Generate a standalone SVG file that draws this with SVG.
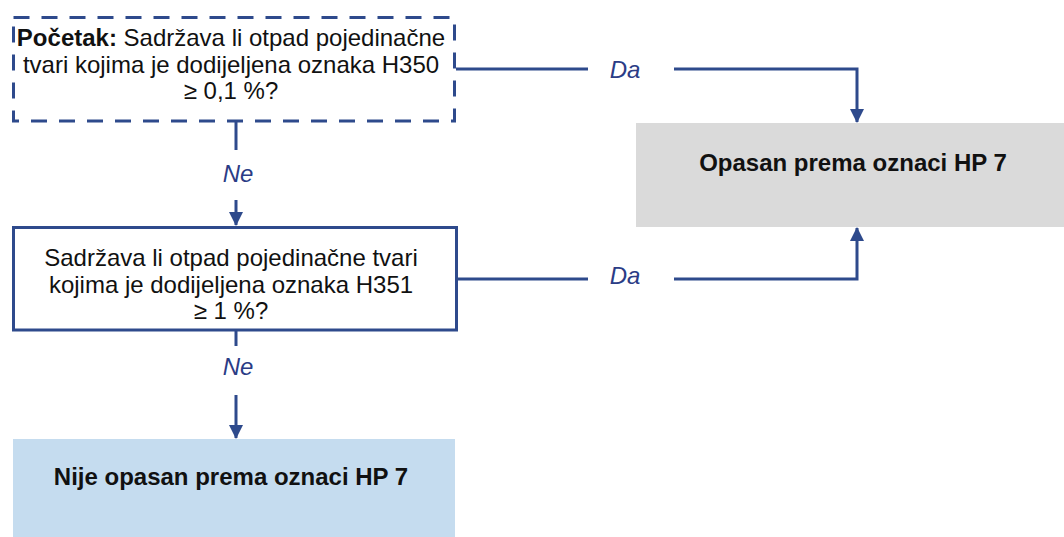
<svg xmlns="http://www.w3.org/2000/svg" width="1064" height="537" viewBox="0 0 1064 537">
<style>
.txt{font-family:"Liberation Sans",Arial,sans-serif;font-size:24px;fill:#111;text-anchor:middle}
.b{font-weight:bold}
.lbl{font-family:"Liberation Sans",Arial,sans-serif;font-size:24px;font-style:italic;fill:#2b3c86;text-anchor:middle}
.conn{fill:none;stroke:#2e4a8c;stroke-width:3}
</style>
<defs>
<marker id="arr" markerUnits="userSpaceOnUse" markerWidth="14" markerHeight="14" refX="13" refY="7" orient="auto">
<path d="M0,0 L14,7 L0,14 z" fill="#2e4a8c"/>
</marker>
</defs>
<rect width="1064" height="537" fill="#fff"/>
<g id="start">
<rect x="13.5" y="17.5" width="441" height="103.5" fill="#fff" stroke="#2e4a8c" stroke-width="3" stroke-dasharray="16 12"/>
<text class="txt" x="231" y="46"><tspan class="b">Početak:</tspan> Sadržava li otpad pojedinačne</text>
<text class="txt" x="231" y="72.5">tvari kojima je dodijeljena oznaka H350</text>
<text class="txt" x="231" y="99">≥ 0,1 %?</text>
</g>
<g id="q2">
<rect x="13.5" y="227.5" width="443" height="102.5" fill="#fff" stroke="#2e4a8c" stroke-width="3"/>
<text class="txt" x="231" y="266">Sadržava li otpad pojedinačne tvari</text>
<text class="txt" x="231" y="292.5">kojima je dodijeljena oznaka H351</text>
<text class="txt" x="231" y="319">≥ 1 %?</text>
</g>
<g id="hazard">
<rect x="636" y="123" width="428" height="104" fill="#dadada"/>
<text class="txt b" x="853" y="171">Opasan prema oznaci HP 7</text>
</g>
<g id="nothazard">
<rect x="13" y="439" width="442" height="98" fill="#c5dcef"/>
<text class="txt b" x="231" y="485">Nije opasan prema oznaci HP 7</text>
</g>
<g id="connectors">
<path class="conn" d="M236,122 L236,150"/>
<path class="conn" d="M236,200 L236,225" marker-end="url(#arr)"/>
<text class="lbl" x="238" y="182">Ne</text>
<path class="conn" d="M236,331 L236,346"/>
<path class="conn" d="M236,395 L236,438" marker-end="url(#arr)"/>
<text class="lbl" x="238" y="375">Ne</text>
<path class="conn" d="M456,69 L588,69"/>
<path class="conn" d="M674,69 L857,69 L857,122" marker-end="url(#arr)"/>
<text class="lbl" x="625" y="78">Da</text>
<path class="conn" d="M458,279 L588,279"/>
<path class="conn" d="M674,279 L857,279 L857,228" marker-end="url(#arr)"/>
<text class="lbl" x="625" y="284">Da</text>
</g>
</svg>
